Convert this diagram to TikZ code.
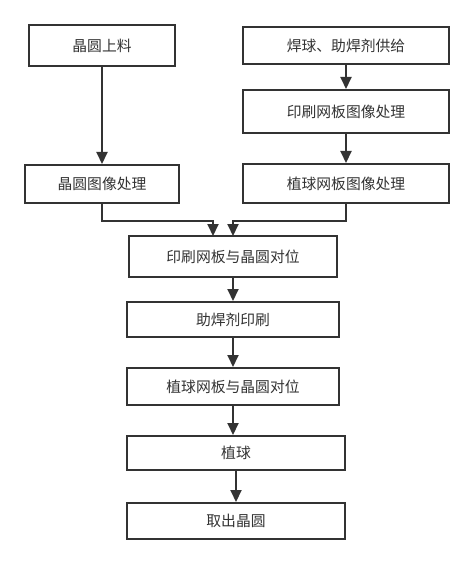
\documentclass[tikz,border=0pt]{standalone}
\usepackage{fontspec}
\newfontfamily\cjk{Noto Sans CJK SC}
\usetikzlibrary{arrows.meta}
\definecolor{ink}{HTML}{333333}
\tikzset{
  box/.style={draw=ink, line width=2pt, fill=white, inner sep=0pt, text=ink,
    font=\cjk\fontsize{14.8}{16}\selectfont, anchor=center},
  conn/.style={draw=ink, line width=2pt, -{Triangle[length=12pt,width=11pt]}}
}
\begin{document}
\begin{tikzpicture}[x=1pt,y=-1pt]
\useasboundingbox[fill=white] (0,0) rectangle (474,564);
\node[box, minimum width=146pt, minimum height=41pt] (A) at (102,45.5) {晶圆上料};
\node[box, minimum width=206pt, minimum height=37pt] (B) at (346,45.5) {焊球、助焊剂供给};
\node[box, minimum width=206pt, minimum height=43pt] (C) at (346,111.5) {印刷网板图像处理};
\node[box, minimum width=206pt, minimum height=39pt] (D) at (346,183.5) {植球网板图像处理};
\node[box, minimum width=154pt, minimum height=38pt] (E) at (102,184) {晶圆图像处理};
\node[box, minimum width=208pt, minimum height=41pt] (F) at (233,256.5) {印刷网板与晶圆对位};
\node[box, minimum width=212pt, minimum height=35pt] (G) at (233,319.5) {助焊剂印刷};
\node[box, minimum width=212pt, minimum height=37pt] (H) at (233,386.5) {植球网板与晶圆对位};
\node[box, minimum width=218pt, minimum height=34pt] (I) at (236,453) {植球};
\node[box, minimum width=218pt, minimum height=36pt] (J) at (236,521) {取出晶圆};
\coordinate (Fl) at (213,236);
\coordinate (Fr) at (233,236);
\draw[conn] (A.south) -- (E.north);
\draw[conn] (B.south) -- (C.north);
\draw[conn] (C.south) -- (D.north);
\draw[conn] (E.south) -- ++(0,17) -| (Fl);
\draw[conn] (D.south) -- ++(0,17) -| (Fr);
\draw[conn] (F.south) -- (G.north);
\draw[conn] (G.south) -- (H.north);
\draw[conn] (H.south) -- (H.south |- I.north);
\draw[conn] (I.south) -- (J.north);
\end{tikzpicture}
\end{document}
